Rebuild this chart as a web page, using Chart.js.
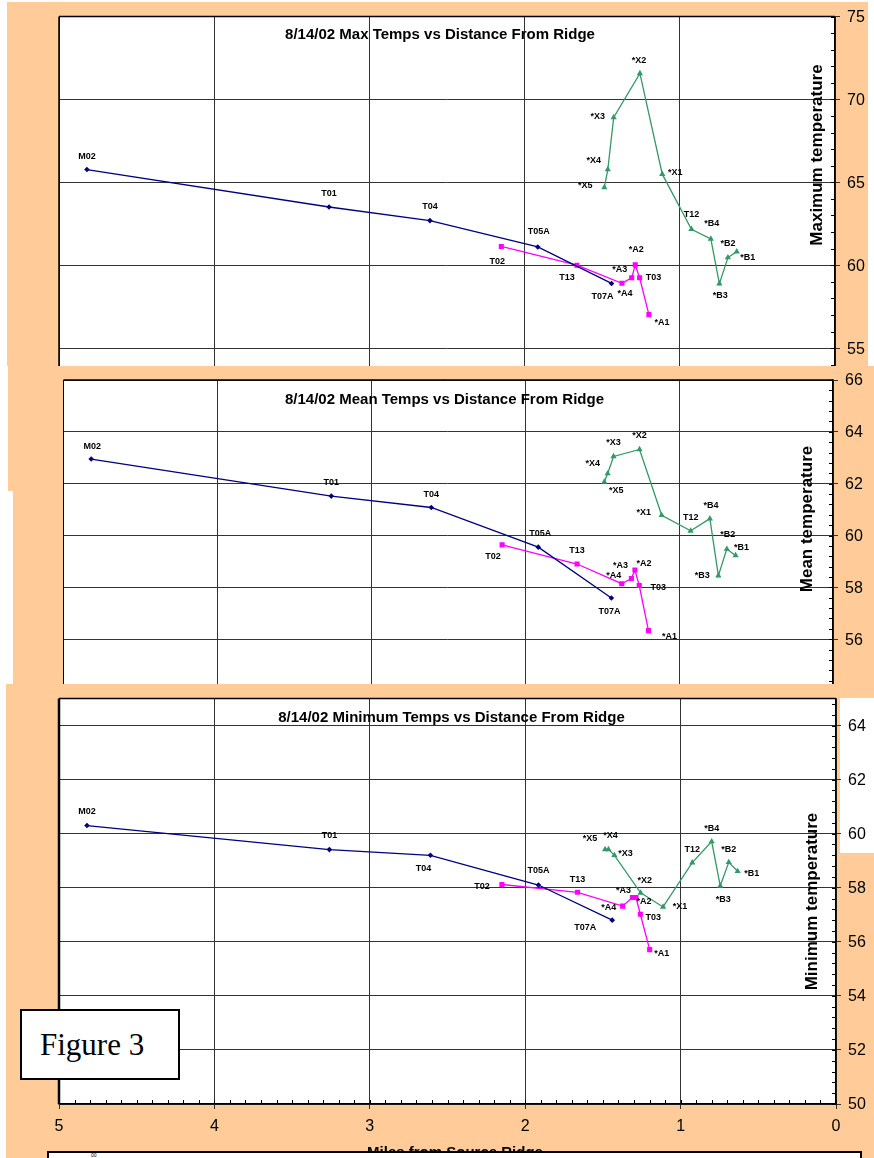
<!DOCTYPE html>
<html>
<head>
<meta charset="utf-8">
<script src="https://cdn.jsdelivr.net/npm/chart.js@4.4.0/dist/chart.umd.min.js"></script>
<style>
  html, body { margin: 0; padding: 0; background: #fff; }
  body { width: 874px; height: 1158px; position: relative; overflow: hidden; font-family: "Liberation Sans", Arial, sans-serif; }
  .panel { position: absolute; overflow: hidden; }
  .panel canvas { position: absolute; left: 0; top: 0; }
  #fig { position: absolute; left: 20px; top: 1009px; width: 160px; height: 71px; box-sizing: border-box;
         border: 2px solid #000; background: #fff; z-index: 5;
         font-family: "Liberation Serif", "Times New Roman", serif; font-size: 31px;
         display: flex; align-items: center; padding-left: 18px; }
  #foot { position: absolute; left: 47px; top: 1151px; width: 815px; height: 30px; box-sizing: border-box;
          border: 2px solid #000; background: #fff; z-index: 5; }
  #foot span { position: absolute; left: 42px; top: 0px; font-size: 5px; line-height: 5px; }
</style>
</head>
<body>
<div class="panel" style="left:7px;top:2px;width:861px;height:364px;z-index:1"><canvas id="cMax" width="861" height="429"></canvas></div>
<div class="panel" style="left:8px;top:366px;width:866px;height:318px;z-index:2"><canvas id="cMean" width="866" height="325"></canvas></div>
<div class="panel" style="left:6px;top:684px;width:868px;height:474px;z-index:3"><canvas id="cMin" width="868" height="474"></canvas></div>
<div id="fig">Figure 3</div>
<div id="foot"><span>00</span></div>

<script>
// ---- Stations and their distance from the source ridge (miles) ----
const blueStations  = ['M02', 'T01', 'T04', 'T05A', 'T07A'];
const blueMiles     = [4.82, 3.26, 2.61, 1.915, 1.44];

const pinkStations  = ['T02', 'T13', '*A4', '*A3', '*A2', 'T03', '*A1'];
const pinkMiles     = [2.15, 1.663, 1.373, 1.31, 1.287, 1.259, 1.199];

const greenStations = ['*X5', '*X4', '*X3', '*X2', '*X1', 'T12', '*B4', '*B3', '*B2', '*B1'];
const greenMiles    = [1.486, 1.464, 1.426, 1.257, 1.113, 0.925, 0.80, 0.745, 0.69, 0.633];

// ---- 8/14/02 temperatures (deg F) ----
const maxBlue   = [65.77, 63.51, 62.69, 61.10, 58.90];
const maxPink   = [61.13, 60.00, 58.91, 59.24, 60.02, 59.24, 57.02];
const maxGreen  = [64.69, 65.77, 68.91, 71.57, 65.49, 62.17, 61.59, 58.89, 60.46, 60.82];

const meanBlue  = [62.95, 61.52, 61.08, 59.55, 57.59];
const meanPink  = [59.64, 58.90, 58.14, 58.34, 58.67, 58.07, 56.33];
const meanGreen = [62.07, 62.39, 63.05, 63.32, 60.78, 60.18, 60.65, 58.45, 59.48, 59.23];

const minBlue   = [60.30, 59.41, 59.20, 58.10, 56.80];
const minPink   = [58.12, 57.83, 57.32, 57.64, 57.64, 57.02, 55.71];
const minGreen  = [59.42, 59.42, 59.20, 57.81, 57.29, 58.93, 59.71, 58.07, 58.94, 58.61];

// ---- Axis ticks ----
const mileTicks = [0, 1, 2, 3, 4, 5];
const maxTicks  = [50, 55, 60, 65, 70, 75];
const meanTicks = [54, 56, 58, 60, 62, 64, 66];
const minTicks  = [50, 52, 54, 56, 58, 60, 62, 64];

// ---- Station label placement (pixel offsets from the marker) ----
const maxLabelPos = {
  'M02': [0, -13], 'T01': [0, -13], 'T04': [0, -14], 'T05A': [1, -15], 'T07A': [-9, 13],
  'T02': [-4, 15], 'T13': [-10, 12], '*A4': [3, 10], '*A3': [-12, -8], '*A2': [1, -15], 'T03': [14, 0], '*A1': [13, 8],
  '*X5': [-19, -2], '*X4': [-14, -9], '*X3': [-16, -1], '*X2': [-1, -13], '*X1': [13, -2],
  'T12': [0, -15], '*B4': [1, -15], '*B3': [1, 12], '*B2': [0, -14], '*B1': [11, 6]
};
const meanLabelPos = {
  'M02': [1, -13], 'T01': [0, -14], 'T04': [0, -13], 'T05A': [2, -14], 'T07A': [-2, 14],
  'T02': [-9, 12], 'T13': [0, -13], '*A4': [-8, -8], '*A3': [-11, -13], '*A2': [9, -6], 'T03': [19, 2], '*A1': [21, 6],
  '*X5': [12, 9], '*X4': [-15, -10], '*X3': [0, -14], '*X2': [0, -14], '*X1': [-18, -3],
  'T12': [0, -13], '*B4': [1, -13], '*B3': [-16, 0], '*B2': [1, -14], '*B1': [6, -8]
};
const minLabelPos = {
  'M02': [0, -14], 'T01': [0, -14], 'T04': [-7, 13], 'T05A': [0, -15], 'T07A': [-27, 7],
  'T02': [-20, 2], 'T13': [0, -13], '*A4': [-14, 1], '*A3': [-9, -7], '*A2': [8, 4], 'T03': [13, 3], '*A1': [12, 4],
  '*X5': [-15, -11], '*X4': [2, -14], '*X3': [11, -2], '*X2': [4, -12], '*X1': [17, 0],
  'T12': [0, -13], '*B4': [0, -13], '*B3': [3, 14], '*B2': [0, -13], '*B1': [14, 2]
};

const PEACH = '#FFCC99';
const FONT = '"Liberation Sans", Arial, Helvetica, sans-serif';

// Paints the panel background, plot frame, tick labels, titles, minor ticks and station names.
function panelPlugin(spec) {
  return {
    id: 'panelDecor',
    beforeDraw(chart) {
      const { ctx, width, height, chartArea: a } = chart;
      ctx.save();
      ctx.fillStyle = PEACH;
      ctx.fillRect(0, 0, width, height);
      ctx.fillStyle = '#fff';
      (spec.blank || []).forEach(r => ctx.fillRect(r[0], r[1], r[2], r[3]));
      ctx.fillRect(a.left, a.top, a.right - a.left, a.bottom - a.top);
      ctx.restore();
    },
    afterDatasetsDraw(chart) {
      const ctx = chart.ctx;
      ctx.save();
      ctx.font = 'bold 9px ' + FONT;
      ctx.fillStyle = '#000';
      ctx.textAlign = 'center';
      ctx.textBaseline = 'middle';
      chart.data.datasets.forEach((d, di) => {
        const meta = chart.getDatasetMeta(di);
        d.names.forEach((n, i) => {
          const p = meta.data[i];
          const off = spec.labelPos[n] || [0, -13];
          ctx.fillText(n, p.x + off[0], p.y + off[1]);
        });
      });
      ctx.restore();
    },
    afterDraw(chart) {
      const { ctx, chartArea: a, scales } = chart;
      const xs = scales.x, ys = scales.y;
      ctx.save();
      // plot frame (top and left)
      ctx.strokeStyle = '#000';
      ctx.lineWidth = 1.5;
      ctx.beginPath();
      ctx.moveTo(a.left, a.top); ctx.lineTo(a.right, a.top);
      ctx.stroke();
      ctx.lineWidth = spec.leftFrame;
      ctx.beginPath();
      ctx.moveTo(a.left, a.top); ctx.lineTo(a.left, a.bottom);
      ctx.stroke();
      // minor ticks on the value axis
      ctx.lineWidth = 1;
      ctx.beginPath();
      for (let v = ys.min; v <= ys.max + 1e-6; v += spec.minorY) {
        const y = Math.round(ys.getPixelForValue(v)) + 0.5;
        ctx.moveTo(a.right, y); ctx.lineTo(a.right - 4, y);
      }
      ctx.stroke();
      // value axis labels
      ctx.fillStyle = '#000';
      ctx.font = '16px ' + FONT;
      ctx.textAlign = 'left';
      ctx.textBaseline = 'middle';
      spec.yTicks.forEach(v => ctx.fillText(String(v), a.right + 12, ys.getPixelForValue(v) + 1));
      // distance axis: minor ticks, labels, title
      if (spec.showX) {
        ctx.beginPath();
        for (let i = 0; i <= 50; i++) {
          const x = Math.round(xs.getPixelForValue(i / 10)) + 0.5;
          ctx.moveTo(x, a.bottom); ctx.lineTo(x, a.bottom - 4);
        }
        ctx.stroke();
        ctx.textAlign = 'center';
        mileTicks.forEach(v => ctx.fillText(String(v), xs.getPixelForValue(v), a.bottom + 23));
        ctx.font = 'bold 15px ' + FONT;
        ctx.textBaseline = 'alphabetic';
        ctx.fillText('Miles from Source Ridge', spec.xTitle[0], spec.xTitle[1]);
      }
      // chart title
      ctx.textAlign = 'center';
      ctx.textBaseline = 'middle';
      ctx.font = 'bold 15px ' + FONT;
      ctx.fillText(spec.title, spec.titlePos[0], spec.titlePos[1]);
      // value axis title, rotated
      ctx.translate(spec.yTitlePos[0], spec.yTitlePos[1]);
      ctx.rotate(-Math.PI / 2);
      ctx.font = 'bold 17px ' + FONT;
      ctx.fillText(spec.yTitle, 0, 0);
      ctx.restore();
    }
  };
}

function series(names, miles, temps, color, style, radius) {
  return {
    names: names,
    data: miles.map((m, i) => ({ x: m, y: temps[i] })),
    showLine: true,
    borderColor: color,
    backgroundColor: color,
    borderWidth: 1.3,
    pointStyle: style,
    pointRadius: radius,
    pointHoverRadius: radius,
    pointBorderWidth: 0,
    tension: 0
  };
}

function buildPanel(id, spec) {
  return new Chart(document.getElementById(id), {
    type: 'scatter',
    data: {
      datasets: [
        series(blueStations, blueMiles, spec.blue, '#000080', 'rectRot', 2.8),
        series(pinkStations, pinkMiles, spec.pink, '#FF00FF', 'rect', 3.6),
        series(greenStations, greenMiles, spec.green, '#339966', 'triangle', 3.6)
      ]
    },
    options: {
      responsive: false,
      animation: false,
      events: [],
      layout: { padding: spec.pad, autoPadding: false },
      plugins: { legend: { display: false }, tooltip: { enabled: false }, title: { display: false } },
      scales: {
        x: {
          type: 'linear', reverse: true, min: 0, max: 5, position: 'bottom',
          afterBuildTicks: s => { s.ticks = mileTicks.map(v => ({ value: v })); },
          afterFit: s => { s.height = spec.xHeight; },
          grid: { color: '#333', lineWidth: 1, drawTicks: spec.showX, tickLength: 5 },
          border: { display: true, color: '#000', width: 1.5 },
          ticks: { display: false }
        },
        y: {
          type: 'linear', position: 'right', min: spec.yMin, max: spec.yMax,
          afterBuildTicks: s => { s.ticks = spec.yTicks.map(v => ({ value: v })); },
          afterFit: s => { s.width = spec.yWidth; },
          grid: { color: '#333', lineWidth: 1, drawTicks: true, tickLength: 5 },
          border: { display: true, color: '#000', width: 1.5 },
          ticks: { display: false }
        }
      }
    },
    plugins: [panelPlugin(spec)]
  });
}

buildPanel('cMax', {
  blue: maxBlue, pink: maxPink, green: maxGreen,
  yMin: 50, yMax: 75, yTicks: maxTicks, minorY: 1,
  pad: { left: 52, top: 14.5, right: 0, bottom: 0 }, yWidth: 33, xHeight: 0, showX: false,
  leftFrame: 1.5,
  title: '8/14/02 Max Temps vs Distance From Ridge', titlePos: [433, 33],
  yTitle: 'Maximum temperature', yTitlePos: [810, 153],
  labelPos: maxLabelPos
});

buildPanel('cMean', {
  blue: meanBlue, pink: meanPink, green: meanGreen,
  yMin: 54, yMax: 66, yTicks: meanTicks, minorY: 0.4,
  pad: { left: 55.5, top: 14, right: 0, bottom: 0 }, yWidth: 41, xHeight: 0, showX: false,
  leftFrame: 1,
  blank: [[0, 125, 5, 200]],
  title: '8/14/02 Mean Temps vs Distance From Ridge', titlePos: [436.5, 34],
  yTitle: 'Mean temperature', yTitlePos: [799, 153],
  labelPos: meanLabelPos
});

buildPanel('cMin', {
  blue: minBlue, pink: minPink, green: minGreen,
  yMin: 50, yMax: 65, yTicks: minTicks, minorY: 0.4,
  pad: { left: 53, top: 14.5, right: 0, bottom: 0 }, yWidth: 38, xHeight: 54, showX: true,
  leftFrame: 2.5,
  blank: [[834, 14, 34, 155]],
  xTitle: [449, 473],
  title: '8/14/02 Minimum Temps vs Distance From Ridge', titlePos: [445.5, 34],
  yTitle: 'Minimum temperature', yTitlePos: [806.5, 217.5],
  labelPos: minLabelPos
});
</script>
</body>
</html>
